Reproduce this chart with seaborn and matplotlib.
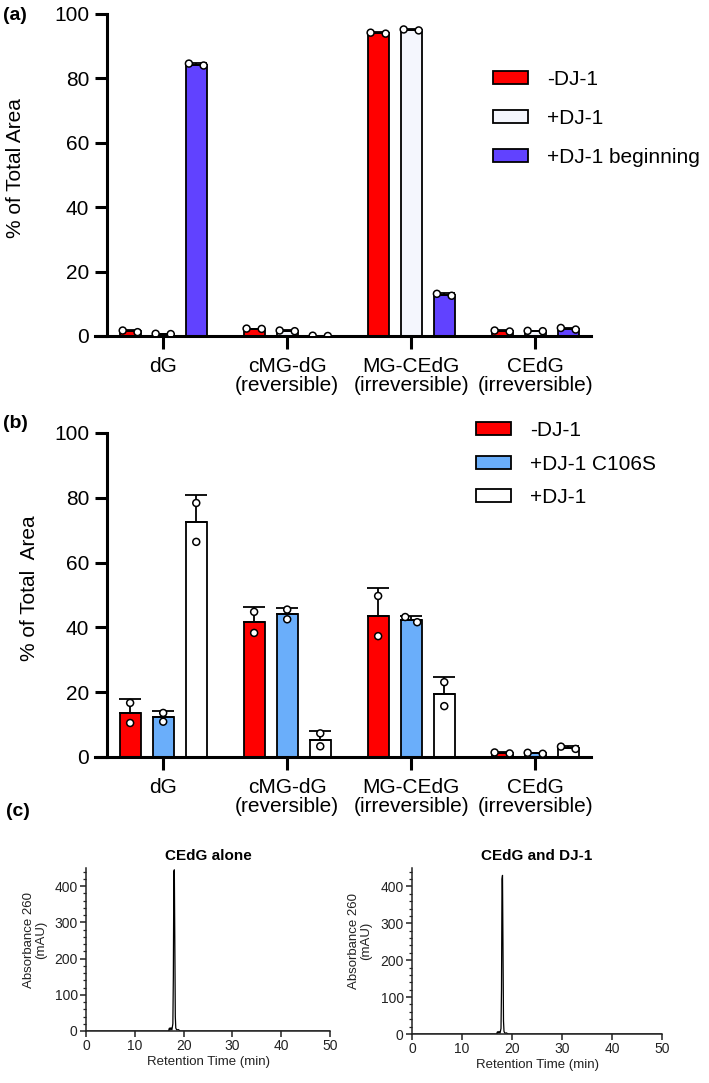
import numpy as np
import pandas as pd
import seaborn as sns
import matplotlib.pyplot as plt
from matplotlib.ticker import MultipleLocator

# ---- data ----
categories = ['dG', 'cMG-dG\n(reversible)', 'MG-CEdG\n(irreversible)', 'CEdG\n(irreversible)']

# panel (a): two replicates per bar, % of total area
a_conditions = ['-DJ-1', '+DJ-1', '+DJ-1 beginning']
a_minus = [[1.2, 1.7], [2.2, 2.3], [93.9, 94.2], [1.4, 1.7]]
a_plus = [[0.7, 0.6], [1.5, 1.7], [94.9, 95.2], [1.5, 1.6]]
a_begin = [[84.0, 84.6], [0.0, 0.1], [12.5, 13.1], [2.0, 2.5]]
a_colors = ['#FF0000', '#F4F6FD', '#6142FF']

# panel (b)
b_conditions = ['-DJ-1', '+DJ-1 C106S', '+DJ-1']
b_minus = [[16.7, 10.5], [44.8, 38.3], [49.7, 37.3], [1.1, 1.4]]
b_c106s = [[13.6, 10.9], [45.5, 42.5], [41.6, 43.2], [1.0, 1.3]]
b_plus = [[78.4, 66.4], [7.3, 3.3], [23.1, 15.7], [2.5, 3.2]]
b_colors = ['#FF0000', '#6AAEFA', '#FFFFFF']

# panel (c): chromatograms (retention time in min, absorbance in mAU)
c_time = [0, 16.9, 17.1, 17.2, 17.4, 17.6, 17.8, 17.9, 18.0, 18.1, 18.2, 18.3, 18.4, 18.6, 18.9, 19.1, 19.3, 50]
c_alone = [0, 0, 8, 2, 9, 3, 20, 150, 440, 445, 250, 40, 8, 3, 4, 2, 0, 0]
c_dj1 = [0, 0, 6, 2, 7, 2, 15, 120, 420, 430, 230, 35, 7, 2, 3, 1, 0, 0]

sns.set_style('ticks')
plt.rcParams['font.family'] = ['Liberation Sans', 'DejaVu Sans']
for key in ['text.color', 'axes.labelcolor', 'axes.edgecolor', 'xtick.color', 'ytick.color']:
    plt.rcParams[key] = 'black'


def long_table(conditions, series):
    rows = []
    for cond, reps in zip(conditions, series):
        for cat, vals in zip(categories, reps):
            for v in vals:
                rows.append((cat, cond, v))
    return pd.DataFrame(rows, columns=['cat', 'cond', 'val'])


def bar_panel(ax, df, conditions, colors):
    pal = dict(zip(conditions, colors))
    sns.barplot(data=df, x='cat', y='val', hue='cond', order=categories,
                hue_order=conditions, palette=pal, errorbar=None, width=0.8,
                gap=0.37, edgecolor='black', linewidth=1.3, legend=False,
                saturation=1, ax=ax)
    bars = list(ax.containers)
    centers = np.array([b.get_x() + b.get_width() / 2 for c in bars for b in c])

    # upward-only SD bars, placed on the seaborn bars
    sd = df.groupby(['cond', 'cat'])['val'].std()
    for cond, cont in zip(conditions, bars):
        xs = [b.get_x() + b.get_width() / 2 for b in cont]
        hs = [b.get_height() for b in cont]
        err = [sd[(cond, c)] for c in categories]
        ax.errorbar(xs, hs, yerr=[np.zeros(len(err)), err], fmt='none',
                    ecolor='black', elinewidth=1.3, capsize=8, capthick=1.3,
                    zorder=3)

    n_coll = len(ax.collections)
    sns.swarmplot(data=df, x='cat', y='val', hue='cond', order=categories,
                  hue_order=conditions, dodge=True,
                  palette={c: 'white' for c in conditions},
                  edgecolor='black', linewidth=1.1, size=5, legend=False,
                  zorder=4, ax=ax)
    swarm = ax.collections[n_coll:]

    ax.set_ylim(0, 100)
    ax.set_xlim(-0.55, 3.45)
    ax.yaxis.set_major_locator(MultipleLocator(20))
    sns.despine(ax=ax)
    ax.spines['left'].set_position(('data', -0.45))
    for s in ['left', 'bottom']:
        ax.spines[s].set_linewidth(2.2)
    ax.tick_params(axis='both', length=9, width=2.2, labelsize=15, pad=4)
    ax.tick_params(axis='x', pad=6)
    ax.set_xlabel('')
    for lab in ax.get_xticklabels():
        lab.set_linespacing(1.0)
    return bars, swarm, centers


def settle_swarm(swarm, centers):
    # centre each replicate pair on its bar and widen the side-by-side spread
    for coll in swarm:
        off = np.array(coll.get_offsets())
        if len(off) == 0:
            continue
        slot = np.abs(off[:, :1] - centers[None, :]).argmin(axis=1)
        for s in np.unique(slot):
            m = slot == s
            mean_x = off[m, 0].mean()
            off[m, 0] = centers[s] + (off[m, 0] - mean_x) * 1.7
        coll.set_offsets(off)
        if 'draw' in coll.__dict__:
            del coll.draw


fig = plt.figure(figsize=(7.09, 10.83), dpi=100)

# ---- (a) ----
ax_a = fig.add_axes([95 / 709, 1 - 336 / 1083, 496 / 709, 322 / 1083])
df_a = long_table(a_conditions, [a_minus, a_plus, a_begin])
bars_a, swarm_a, centers_a = bar_panel(ax_a, df_a, a_conditions, a_colors)
ax_a.set_ylabel('% of Total Area', fontsize=15)
ax_a.yaxis.set_label_coords((25 - 95) / 496, 0.52)
fig.legend(bars_a, a_conditions, loc='upper left',
           bbox_to_anchor=(493 / 709, 1 - 70 / 1083), frameon=False,
           fontsize=15, borderpad=0, borderaxespad=0, handlelength=1.7,
           handleheight=0.6, handletextpad=0.9, labelspacing=0.95)
fig.text(3 / 709, 1 - 15 / 1083, '(a)', fontsize=14, fontweight='bold', va='center')

# ---- (b) ----
ax_b = fig.add_axes([95 / 709, 1 - 757 / 1083, 496 / 709, 324 / 1083])
df_b = long_table(b_conditions, [b_minus, b_c106s, b_plus])
bars_b, swarm_b, centers_b = bar_panel(ax_b, df_b, b_conditions, b_colors)
ax_b.set_ylabel('% of Total  Area', fontsize=15)
ax_b.yaxis.set_label_coords((39 - 95) / 496, 0.52)
fig.legend(bars_b, b_conditions, loc='upper left',
           bbox_to_anchor=(476 / 709, 1 - 421 / 1083), frameon=False,
           fontsize=15, borderpad=0, borderaxespad=0, handlelength=1.7,
           handleheight=0.6, handletextpad=0.9, labelspacing=0.7)
fig.text(3 / 709, 1 - 423 / 1083, '(b)', fontsize=14, fontweight='bold', va='center')

# ---- (c) ----
fig.text(6 / 709, 1 - 812 / 1083, '(c)', fontsize=14, fontweight='bold', va='center')
chrom = [
    ([86 / 709, 1 - 1031 / 1083, 244 / 709, 163 / 1083], c_alone, 'CEdG alone'),
    ([412 / 709, 1 - 1034 / 1083, 250 / 709, 166 / 1083], c_dj1, 'CEdG and DJ-1'),
]
for rect, trace, title in chrom:
    ax = fig.add_axes(rect)
    sns.lineplot(x=c_time, y=trace, color='black', linewidth=0.9,
                 estimator=None, sort=False, ax=ax)
    ax.set_xlim(0, 50)
    ax.set_ylim(0, 450)
    ax.xaxis.set_major_locator(MultipleLocator(10))
    ax.yaxis.set_major_locator(MultipleLocator(100))
    ax.yaxis.set_minor_locator(MultipleLocator(20))
    sns.despine(ax=ax)
    for s in ['left', 'bottom']:
        ax.spines[s].set_linewidth(1.1)
        ax.spines[s].set_color('#222222')
    ax.tick_params(axis='both', which='major', length=4, width=1.1,
                   labelsize=10, pad=2, colors='#222222')
    ax.tick_params(axis='y', which='minor', length=2.5, width=0.9, colors='#222222')
    ax.set_xlabel('Retention Time (min)', fontsize=9.5, labelpad=2, color='#222222')
    ax.set_ylabel('Absorbance 260\n(mAU)', fontsize=9.5, linespacing=1.0, color='#222222')
    ax.yaxis.set_label_coords(-0.16, 0.56)
    ax.set_title(title, fontsize=11, fontweight='bold', pad=6)

# let seaborn lay out the swarms once, then fix them in place
fig.canvas.draw()
settle_swarm(swarm_a, centers_a)
settle_swarm(swarm_b, centers_b)

fig.savefig('out.png', dpi=100)
